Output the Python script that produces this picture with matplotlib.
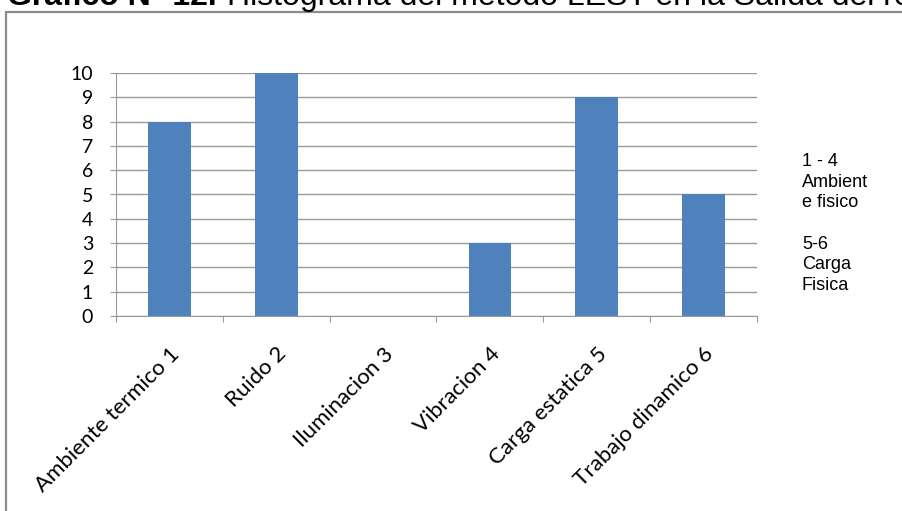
import matplotlib.pyplot as plt
from matplotlib.patches import Rectangle
import numpy as np

# datos del grafico
categorias = ['Ambiente termico 1', 'Ruido 2', 'Iluminacion 3',
              'Vibracion 4', 'Carga estatica 5', 'Trabajo dinamico 6']
valores = [8, 10, 0, 3, 9, 5]
marcas_y = list(range(0, 11))
nota = '1 - 4\nAmbient\ne fisico\n\n5-6\nCarga\nFisica'

W, H = 903, 511
fig = plt.figure(figsize=(W / 100, H / 100), dpi=100)

def px(x, y):
    # pixeles (desde arriba a la izquierda) a fraccion de figura
    return x / W, 1 - y / H

# titulo, cortado por arriba
fig.text(*px(7, 5), 'Gráfico N° 12.', fontsize=23, fontweight='bold',
         family='Liberation Sans', va='baseline', ha='left')
fig.text(*px(227, 5), 'Histograma del método LEST en la Salida del rotor',
         fontsize=23, family='Liberation Sans', va='baseline', ha='left')

# marco del area del grafico
x0, y0 = px(6, 12)
fig.patches.append(Rectangle((x0, -0.2), 2, y0 + 0.2, transform=fig.transFigure,
                             fill=False, edgecolor='#8c8c8c', lw=1.6))

l, t = px(116, 73)
r, b = px(757, 316)
ax = fig.add_axes([l, b, r - l, t - b])

x = np.arange(len(categorias))
ax.bar(x, valores, width=0.4, color='#4F81BD', zorder=3)

ax.set_xlim(-0.5, len(categorias) - 0.5)
ax.set_ylim(0, 10)
ax.set_yticks(marcas_y)
ax.grid(axis='y', color='#9a9a9a', lw=1)
for s in ['top', 'right']:
    ax.spines[s].set_visible(False)
ax.spines['left'].set_color('#9a9a9a')
ax.spines['bottom'].set_color('#9a9a9a')
ax.spines['bottom'].set_zorder(4)

ax.tick_params(axis='y', length=4.5, color='#9a9a9a', pad=12, labelsize=14)
for lab in ax.get_yticklabels():
    lab.set_family('Lato')

# ticks en los bordes de cada categoria, etiquetas en el centro
ax.set_xticks(np.arange(-0.5, len(categorias)), minor=False)
ax.set_xticklabels([])
ax.tick_params(axis='x', which='major', length=4.5, color='#9a9a9a')
ax.set_xticks(x, minor=True)
ax.set_xticklabels(categorias, minor=True, rotation=45, ha='right',
                   rotation_mode='anchor', fontsize=16, family='Lato')
ax.tick_params(axis='x', which='minor', length=0, pad=20)

fig.text(*px(802, 153), nota, fontsize=13, family='Liberation Sans',
         va='top', ha='left', linespacing=1.28)

fig.savefig('out.png', dpi=100)
